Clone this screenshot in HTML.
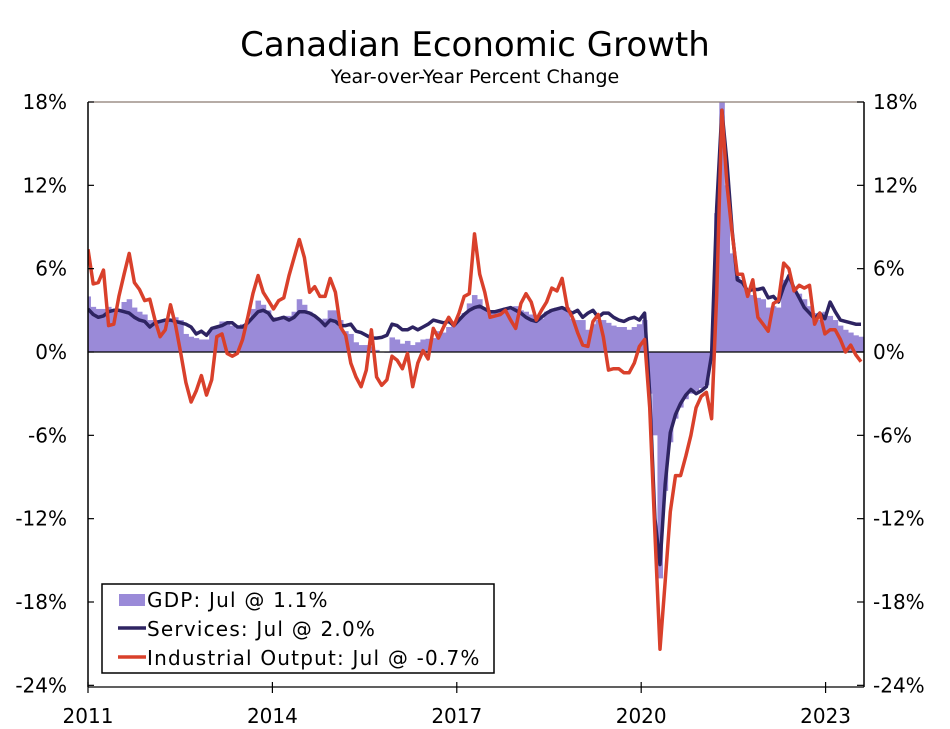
<!DOCTYPE html>
<html><head><meta charset="utf-8">
<style>
html,body{margin:0;padding:0;background:#fff;}
svg{display:block;font-family:"DejaVu Sans","Liberation Sans",sans-serif;}
.lg{letter-spacing:1.2px;}
</style></head>
<body>
<svg id="chart" width="950" height="729" viewBox="0 0 950 729" xmlns="http://www.w3.org/2000/svg">
<text x="475" y="56" text-anchor="middle" font-size="34" fill="#000">Canadian Economic Growth</text>
<text x="475" y="83" text-anchor="middle" font-size="19" fill="#000">Year-over-Year Percent Change</text>
<g id="plot"></g>
<g id="axes"></g>
<g>
<rect x="102" y="584" width="392" height="89" fill="#fff" stroke="#000" stroke-width="1.5"/>
<g><rect x="119" y="594" width="26" height="12" fill="#9a8ad8"/><text class="lg" x="147" y="607" font-size="20">GDP: Jul @ 1.1%</text></g>
<g><line x1="118" y1="628" x2="146" y2="628" stroke="#2e2462" stroke-width="3.5"/><text class="lg" x="147" y="636" font-size="20">Services: Jul @ 2.0%</text></g>
<g><line x1="118" y1="657" x2="146" y2="657" stroke="#d9402b" stroke-width="3.5"/><text class="lg" x="147" y="665" font-size="20">Industrial Output: Jul @ -0.7%</text></g>
</g>
</svg>
<script>
const gdp=[4.0,3.25,3.1,3.1,3.25,2.9,3.1,3.6,3.8,3.2,2.9,2.7,2.3,2.3,2.3,2.3,2.3,2.5,2.3,1.3,1.1,1.0,0.9,0.9,1.6,1.8,2.2,2.2,1.9,1.7,2.0,2.3,3.1,3.7,3.4,3.0,2.5,2.3,2.6,2.6,2.9,3.8,3.4,2.9,2.6,2.3,2.4,3.0,3.0,2.3,1.5,1.3,0.7,0.5,0.5,0.4,0.15,0.0,-0.05,1.05,0.9,0.6,0.8,0.5,0.7,0.9,0.95,1.0,1.5,1.4,1.8,2.0,2.4,2.8,3.5,4.1,3.8,3.2,2.9,3.0,3.0,3.2,3.2,3.3,3.0,2.9,2.7,2.3,2.4,2.9,3.1,3.2,3.2,3.2,2.4,2.3,2.3,1.6,2.0,2.3,2.3,2.1,1.9,1.8,1.8,1.6,1.8,2.0,2.3,-3,-6,-16.3,-10,-6.5,-4.8,-4.0,-3.4,-3.0,-2.8,-2.6,-2.4,-0.5,10,18,12,7.1,5.4,5.0,4.2,4.1,3.9,3.8,3.2,3.3,3.2,5.2,5.2,4.6,4.2,3.8,3.3,2.8,2.3,2.9,2.6,2.3,1.9,1.6,1.4,1.2,1.1];
const services=[3.1,2.7,2.5,2.6,2.9,3.0,3.0,2.9,2.8,2.5,2.3,2.2,1.8,2.1,2.2,2.3,2.3,2.2,2.1,2.0,1.8,1.3,1.5,1.2,1.7,1.8,1.9,2.1,2.1,1.8,1.8,2.1,2.5,2.9,3.0,2.8,2.3,2.4,2.5,2.3,2.5,2.9,2.9,2.8,2.6,2.3,1.9,2.3,2.2,1.9,1.9,2.0,1.5,1.4,1.2,1.0,1.0,1.05,1.2,2.0,1.9,1.6,1.6,1.8,1.6,1.8,2.0,2.3,2.2,2.1,2.2,1.9,2.3,2.7,3.0,3.2,3.3,3.1,2.9,2.9,3.0,3.1,3.2,3.0,2.8,2.5,2.3,2.2,2.5,2.8,3.0,3.1,3.2,3.0,2.8,3.0,2.5,2.8,3.0,2.5,2.8,2.8,2.5,2.3,2.2,2.4,2.5,2.3,2.8,-3,-12,-15.3,-9.5,-5.8,-4.5,-3.7,-3.1,-2.7,-3.0,-2.8,-2.5,-0.2,10.4,17.4,13.6,8.7,5.2,5.0,4.4,4.5,4.5,4.6,3.9,4.0,3.6,4.7,5.5,4.6,3.9,3.2,2.8,2.4,2.8,2.4,3.6,2.9,2.3,2.2,2.1,2.0,2.0];
const industrial=[7.4,4.9,5.0,5.9,1.9,2.0,4.0,5.6,7.1,5.0,4.5,3.7,3.8,2.3,1.1,1.6,3.4,1.9,-0.1,-2.2,-3.6,-2.8,-1.7,-3.1,-2.0,1.1,1.3,-0.1,-0.3,-0.1,0.9,2.5,4.2,5.5,4.3,3.7,3.1,3.7,3.9,5.5,6.8,8.1,6.8,4.3,4.7,4.0,4.0,5.3,4.3,1.8,1.2,-0.8,-1.8,-2.5,-1.3,1.6,-1.8,-2.4,-2.0,-0.3,-0.6,-1.2,-0.1,-2.5,-0.8,0.1,-0.5,1.7,1.0,1.8,2.5,1.9,2.8,4.0,4.2,8.5,5.6,4.3,2.5,2.6,2.7,3.0,2.3,1.7,3.5,4.2,3.6,2.3,3.0,3.6,4.6,4.4,5.3,3.2,2.5,1.4,0.5,0.4,2.2,2.7,1.1,-1.3,-1.2,-1.2,-1.5,-1.5,-0.8,0.4,0.9,-4.0,-13.0,-21.4,-16.5,-11.5,-8.9,-8.9,-7.5,-6.0,-4.0,-3.2,-2.9,-4.8,4.1,17.4,12.0,8.5,5.6,5.6,4.0,5.2,2.5,2.0,1.5,3.5,3.7,6.4,6.0,4.4,4.8,4.6,4.8,2.0,2.8,1.3,1.6,1.6,0.9,0.0,0.5,-0.2,-0.7];
const yTicks=[18,12,6,0,-6,-12,-18,-24];
const yTickLabels=["18%","12%","6%","0%","-6%","-12%","-18%","-24%"];
const xTickMonths=[0,36,72,108,144];
const xTickLabels=["2011","2014","2017","2020","2023"];

const NS="http://www.w3.org/2000/svg";
const L=88,R=864,T=102,B=687;
const N=gdp.length;
const step=(861-L)/(N-1);
function xs(i){return L+i*step;}
function xt(m){return L+m*(R-L)/(151.5);}
function ys(v){return 352-(v)*(352-T)/18;}
function mk(tag,attrs,parent){const e=document.createElementNS(NS,tag);for(const k in attrs)e.setAttribute(k,attrs[k]);parent.appendChild(e);return e;}
const plot=document.getElementById('plot');
const axes=document.getElementById('axes');
const defs=mk('defs',{},plot);
const cp=mk('clipPath',{id:'clip'},defs);
mk('rect',{x:L,y:T,width:R-L,height:B-T},cp);
const bars=mk('g',{'clip-path':'url(#clip)'},plot);


for(let i=0;i<N;i++){
  const y0=ys(0),y1=ys(gdp[i]);
  const r=mk('rect',{x:xs(i)-step/2,y:Math.min(y0,y1),width:step+0.4,height:Math.abs(y1-y0),fill:'#9a8ad8'},bars);
  
  
}
const z=mk('line',{x1:L,x2:R,y1:ys(0),y2:ys(0),stroke:'#000','stroke-width':1.3},plot);


function line(arr,color,name){
  const d=arr.map((v,i)=>(i?'L':'M')+xs(i).toFixed(1)+' '+ys(v).toFixed(1)).join(' ');
  const p=mk('path',{d:d,fill:'none',stroke:color,'stroke-width':3.5,'stroke-linejoin':'round','clip-path':'url(#clip)'},plot);
  
  
}
line(services,'#2e2462','services-line');
line(industrial,'#d9402b','industrial-output-line');
mk('line',{x1:L,x2:R,y1:T,y2:T,stroke:'#8a7a70','stroke-width':1.2},axes);
const la=mk('line',{x1:L,x2:L,y1:T,y2:B,stroke:'#000','stroke-width':1.5},axes);


const ra=mk('line',{x1:R,x2:R,y1:T,y2:B,stroke:'#000','stroke-width':1.5},axes);


const ba=mk('line',{x1:L,x2:R,y1:B,y2:B,stroke:'#000','stroke-width':1.2},axes);


yTicks.forEach((v,k)=>{
  const y=ys(v);
  mk('line',{x1:L,x2:L+6,y1:y,y2:y,stroke:'#000','stroke-width':1.2},axes);
  mk('line',{x1:R-7,x2:R,y1:y,y2:y,stroke:'#000','stroke-width':1.2},axes);
  const t1=mk('text',{x:67,y:y+7,'text-anchor':'end','font-size':20},axes);
  t1.textContent=yTickLabels[k];
  
  
  const t2=mk('text',{x:873,y:y+7,'text-anchor':'start','font-size':20},axes);
  t2.textContent=yTickLabels[k];
  
  
});
xTickMonths.forEach((m,k)=>{
  const x=xt(m);
  mk('line',{x1:x,x2:x,y1:B-5,y2:B+6,stroke:'#000','stroke-width':1.2},axes);
  const t=mk('text',{x:x,y:723,'text-anchor':'middle','font-size':20},axes);
  t.textContent=xTickLabels[k];
  
  
});
</script>
</body></html>
